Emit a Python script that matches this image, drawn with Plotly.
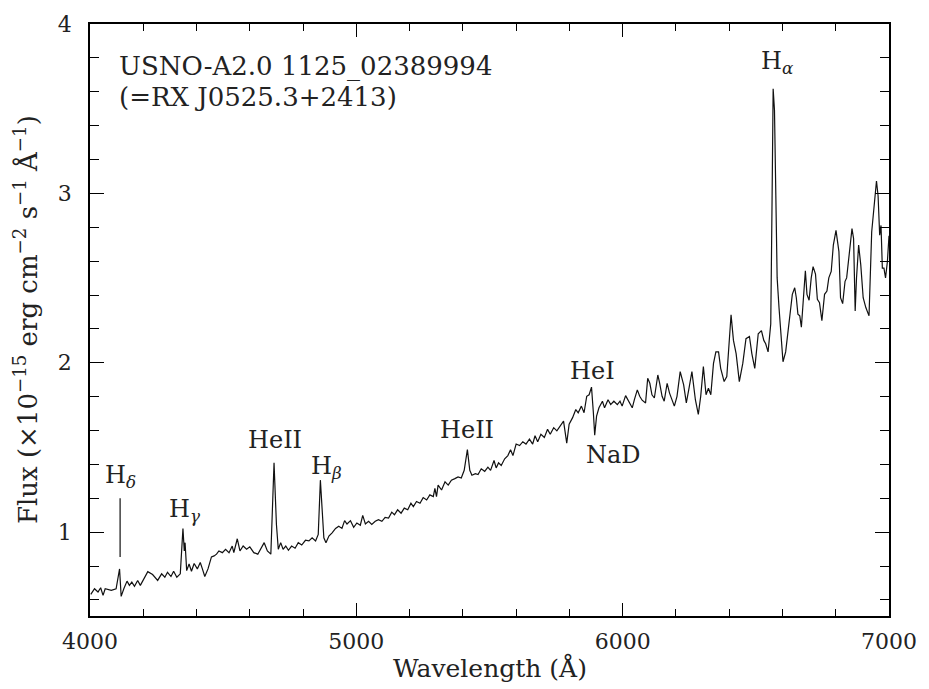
import plotly.graph_objects as go

# ---- data ----
wavelength = [
    4003, 4017, 4030, 4040, 4049, 4057, 4080, 4098, 4111, 4117, 4127, 4139, 4148, 4157, 4167, 4179, 4189,
    4207, 4217, 4235, 4254, 4269, 4281, 4291, 4304, 4314, 4326, 4339, 4349, 4354, 4357, 4363, 4372, 4381,
    4391, 4403, 4414, 4422, 4431, 4443, 4456, 4466, 4475, 4484, 4497, 4509, 4522, 4534, 4540, 4553, 4563,
    4575, 4588, 4600, 4615, 4630, 4646,
    4654, 4666, 4679, 4691, 4700, 4707, 4716, 4725, 4735, 4745, 4757, 4770, 4782, 4795, 4809, 4822, 4834,
    4847, 4857, 4865, 4872, 4878, 4886, 4897, 4909, 4922, 4934, 4946, 4956, 4965, 4978, 4990, 5002, 5015,
    5024, 5034, 5046, 5058, 5071, 5083, 5096, 5108, 5121, 5133, 5143, 5155, 5168, 5180, 5193, 5205, 5214,
    5226, 5239, 5251, 5264, 5276, 5289, 5295, 5301,
    5307, 5320, 5333, 5345, 5357, 5370, 5382, 5394, 5405, 5417, 5426, 5434, 5447, 5457, 5469, 5482, 5494,
    5504, 5517, 5525, 5534, 5544, 5557, 5569, 5579, 5588, 5600, 5613, 5625, 5637, 5650, 5662, 5671, 5681,
    5693, 5706, 5718, 5728, 5741, 5753, 5766, 5778, 5790, 5799, 5812, 5824, 5833, 5845, 5855, 5865, 5874,
    5883, 5890, 5895, 5902, 5911,
    5924, 5932, 5945, 5955, 5967, 5980, 5990, 5998, 6011, 6023, 6036, 6044, 6055, 6064, 6073, 6086, 6094,
    6102, 6110, 6119, 6132, 6139, 6148, 6156, 6167, 6176, 6185, 6194, 6204, 6216, 6229, 6239, 6248, 6260,
    6273, 6284, 6293, 6303, 6313, 6322, 6331, 6341, 6350, 6360, 6368, 6381, 6391, 6399, 6407, 6416, 6426,
    6438, 6451, 6463, 6476, 6485, 6496, 6509, 6521, 6530, 6537, 6546,
    6556, 6561, 6565, 6570, 6574, 6580, 6587, 6596, 6602, 6612, 6621, 6630, 6637, 6646, 6652, 6658, 6665,
    6671, 6677, 6686, 6692, 6700, 6708, 6715, 6724, 6731, 6739, 6748, 6758, 6767, 6774, 6783, 6791, 6801,
    6812, 6818, 6826, 6835, 6841, 6851, 6861, 6867, 6873, 6878, 6886, 6894, 6903, 6913, 6925, 6935, 6944,
    6953, 6959, 6965, 6970, 6975, 6981, 6987, 6994, 7000,
]
flux = [
    0.633, 0.666, 0.647, 0.672, 0.627, 0.666, 0.656, 0.666, 0.783, 0.621, 0.666, 0.711, 0.686, 0.705, 0.680, 0.715, 0.686,
    0.744, 0.767, 0.750, 0.715, 0.754, 0.734, 0.763, 0.738, 0.769, 0.734, 0.754, 1.022, 0.889, 0.938, 0.773, 0.812, 0.769,
    0.815, 0.783, 0.821, 0.783, 0.738, 0.783, 0.854, 0.860, 0.870, 0.889, 0.879, 0.899, 0.879, 0.918, 0.879, 0.961, 0.889,
    0.918, 0.899, 0.913, 0.879, 0.870, 0.913,
    0.938, 0.889, 0.870, 1.409, 1.045, 0.899, 0.938, 0.899, 0.918, 0.893, 0.918, 0.905, 0.938, 0.924, 0.952, 0.948, 0.967,
    0.948, 0.987, 1.307, 1.142, 0.967, 0.938, 0.977, 0.996, 1.022, 1.035, 1.022, 1.068, 1.048, 1.068, 1.029, 1.054, 1.041,
    1.099, 1.048, 1.064, 1.045, 1.064, 1.074, 1.064, 1.087, 1.083, 1.118, 1.103, 1.132, 1.112, 1.142, 1.132, 1.171, 1.151,
    1.181, 1.171, 1.204, 1.190, 1.220, 1.210, 1.258, 1.210,
    1.278, 1.249, 1.297, 1.278, 1.307, 1.316, 1.326, 1.320, 1.365, 1.487, 1.365, 1.336, 1.345, 1.340, 1.374, 1.359, 1.384,
    1.365, 1.423, 1.379, 1.409, 1.394, 1.433, 1.452, 1.487, 1.452, 1.520, 1.511, 1.534, 1.520, 1.549, 1.520, 1.569, 1.534,
    1.578, 1.559, 1.607, 1.578, 1.617, 1.598, 1.627, 1.656, 1.526, 1.637, 1.676, 1.724, 1.705, 1.744, 1.705, 1.802, 1.811,
    1.856, 1.705, 1.573, 1.685, 1.734,
    1.773, 1.734, 1.782, 1.753, 1.773, 1.753, 1.773, 1.744, 1.806, 1.773, 1.734, 1.782, 1.840, 1.802, 1.779, 1.763, 1.909,
    1.879, 1.811, 1.792, 1.928, 1.879, 1.802, 1.773, 1.879, 1.821, 1.782, 1.744, 1.802, 1.948, 1.870, 1.763, 1.840, 1.948,
    1.782, 1.695, 1.802, 1.977, 1.811, 1.850, 1.811, 1.996, 2.064, 2.064, 1.967, 1.889, 1.918, 2.132, 2.283, 2.132, 2.054,
    1.889, 1.996, 2.142, 2.155, 2.054, 1.967, 2.171, 2.190, 2.132, 2.112, 2.064,
    2.229, 2.967, 3.617, 3.491, 2.967, 2.501, 2.326, 2.151, 2.006, 2.064, 2.190, 2.306, 2.404, 2.443, 2.384, 2.287, 2.277,
    2.210, 2.345, 2.543, 2.404, 2.369, 2.501, 2.568, 2.524, 2.374, 2.355, 2.248, 2.404, 2.423, 2.501, 2.539, 2.695, 2.782,
    2.656, 2.384, 2.349, 2.481, 2.501, 2.656, 2.792, 2.734, 2.306, 2.501, 2.695, 2.578, 2.384, 2.326, 2.277, 2.772, 2.947,
    3.073, 2.986, 2.753, 2.811, 2.559, 2.559, 2.501, 2.598, 2.750,
]

# line identifications (label text, label wavelength, label flux)
line_labels = ["H<sub><i>δ</i></sub>", "H<sub><i>γ</i></sub>", "HeII", "H<sub><i>β</i></sub>",
               "HeII", "HeI", "NaD", "H<sub><i>α</i></sub>"]
label_wave = [4116, 4355, 4695, 4889, 5416, 5886, 5965, 6578]
label_flux = [1.33, 1.13, 1.547, 1.38, 1.606, 1.949, 1.454, 3.775]

# H-delta marker stroke: wavelength, low flux, high flux
hdelta_mark = [4113, 0.854, 1.20]

object_lines = ["USNO-A2.0 1125_02389994", "(=RX J0525.3+2413)"]
object_flux = [3.752, 3.572]
object_wave = 4103

x_ticks = [4000, 5000, 6000, 7000]
y_ticks = [1, 2, 3, 4]

FONT = "DejaVu Serif"
TXT = "#222222"

fig = go.Figure()
fig.add_trace(go.Scatter(x=wavelength, y=flux, mode="lines",
                         line=dict(color="#111111", width=1.2), hoverinfo="skip"))
fig.add_trace(go.Scatter(x=[hdelta_mark[0], hdelta_mark[0]], y=[hdelta_mark[1], hdelta_mark[2]],
                         mode="lines", line=dict(color="#111111", width=1.2), hoverinfo="skip"))

for t, xw, yf in zip(line_labels, label_wave, label_flux):
    fig.add_annotation(x=xw, y=yf, xref="x", yref="y", text=t, showarrow=False,
                       xanchor="center", yanchor="middle",
                       font=dict(family=FONT, size=24, color=TXT))

for t, yf in zip(object_lines, object_flux):
    fig.add_annotation(x=object_wave, y=yf, xref="x", yref="y", text=t, showarrow=False,
                       xanchor="left", yanchor="middle", font=dict(family=FONT, size=26, color=TXT))

fig.add_annotation(x=0.5, y=-0.087, xref="paper", yref="paper", text="Wavelength (Å)",
                   xanchor="center", yanchor="middle",
                   showarrow=False, font=dict(family=FONT, size=25, color=TXT))
fig.add_annotation(x=-0.08, y=0.5, xref="paper", yref="paper",
                   text="Flux (×10<sup>−15</sup> erg cm<sup>−2</sup> s<sup>−1</sup> Å<sup>−1</sup>)",
                   xanchor="center", yanchor="middle",
                   textangle=-90, showarrow=False, font=dict(family=FONT, size=26, color=TXT))

axis_common = dict(showline=True, linecolor="black", linewidth=1.5, mirror="allticks",
                   ticks="inside", tickcolor="black", tickwidth=1.2, showgrid=False, zeroline=False,
                   tickfont=dict(family=FONT, size=22, color=TXT))

fig.update_xaxes(range=[4000, 7000], tickvals=x_ticks, ticktext=[str(v) for v in x_ticks],
                 ticklen=13, ticklabelstandoff=5,
                 minor=dict(dtick=200, ticklen=7, ticks="inside", tickcolor="black", tickwidth=1.2,
                            showgrid=False),
                 **axis_common)
fig.update_yaxes(range=[0.505, 4.0], tickvals=y_ticks, ticktext=[str(v) for v in y_ticks],
                 ticklen=14, ticklabelstandoff=12,
                 minor=dict(dtick=0.2, ticklen=9, ticks="inside", tickcolor="black", tickwidth=1.2,
                            showgrid=False),
                 **axis_common)

fig.update_layout(width=929, height=689, margin=dict(l=90, r=36, t=16, b=73),
                  plot_bgcolor="white", paper_bgcolor="white", showlegend=False)

fig.write_html("out.html")
